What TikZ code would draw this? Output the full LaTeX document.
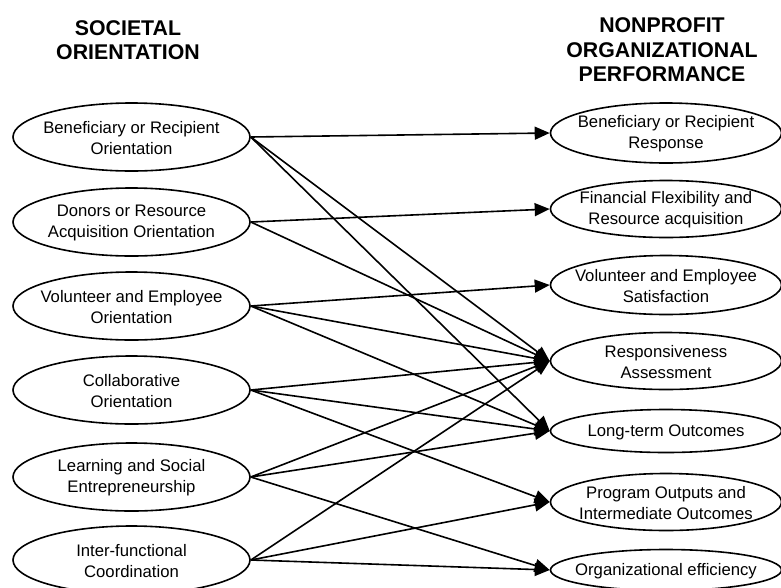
\documentclass[tikz,border=0pt]{standalone}
\usepackage{fontspec}
\setmainfont{Liberation Sans}
\usetikzlibrary{shapes.geometric,arrows.meta}
\tikzset{txt/.style={align=center, font=\fontsize{16.7}{21}\selectfont, yshift=-1pt},
  head/.style={align=center, font=\fontsize{21.3}{24.5}\selectfont\bfseries},
  oval/.style={ellipse, draw, line width=1.6pt, inner sep=0pt,
    minimum width=237pt, minimum height=68pt, label={[txt]center:#1}},
  arr/.style={line width=1.6pt, -{Triangle[length=15pt,width=13pt]}}}

\begin{document}
\begin{tikzpicture}[x=1pt, y=-1pt]
    \useasboundingbox (0,0) rectangle (781,587);
    \node[head] (orient) at (128,40) {SOCIETAL\\ORIENTATION};
    \node[head] (perf) at (662,50) {NONPROFIT\\ORGANIZATIONAL\\PERFORMANCE};
    \node[oval={Beneficiary or Recipient\\Orientation}] (ben) at (131.5,137) {};
    \node[oval={Donors or Resource\\Acquisition Orientation}] (don) at (131.5,222) {};
    \node[oval={Volunteer and Employee\\Orientation}] (vol) at (131.5,306) {};
    \node[oval={Collaborative\\Orientation}] (col) at (131.5,390) {};
    \node[oval={Learning and Social\\Entrepreneurship}] (lrn) at (131.5,477) {};
    \node[oval={Inter-functional\\Coordination}] (itf) at (131.5,560) {};
    \node[oval={Beneficiary or Recipient\\Response}, minimum width=231pt, minimum height=60pt] (resp) at (666,133) {};
    \node[oval={Financial Flexibility and\\Resource acquisition}, minimum width=231pt, minimum height=57pt] (fin) at (666,209) {};
    \node[oval={Volunteer and Employee\\Satisfaction}, minimum width=231pt, minimum height=59pt] (sat) at (666,285) {};
    \node[oval={Responsiveness\\Assessment}, minimum width=231pt, minimum height=57pt] (rsv) at (666,361) {};
    \node[oval={Long-term Outcomes}, minimum width=231pt, minimum height=43pt] (ltm) at (666,431) {};
    \node[oval={Program Outputs and\\Intermediate Outcomes}, minimum width=231pt, minimum height=57pt] (out) at (666,502) {};
    \node[oval={Organizational efficiency}, minimum width=231pt, minimum height=41pt] (eff) at (666,570) {};
    \foreach \a/\b in {ben/resp, ben/rsv, ben/ltm, don/fin, don/rsv, vol/sat, vol/rsv, vol/ltm,
        col/rsv, col/ltm, col/out, lrn/rsv, lrn/ltm, lrn/eff, itf/rsv, itf/out, itf/eff}
      \draw[arr] (\a.east) -- (\b.west);
\end{tikzpicture}
\end{document}
